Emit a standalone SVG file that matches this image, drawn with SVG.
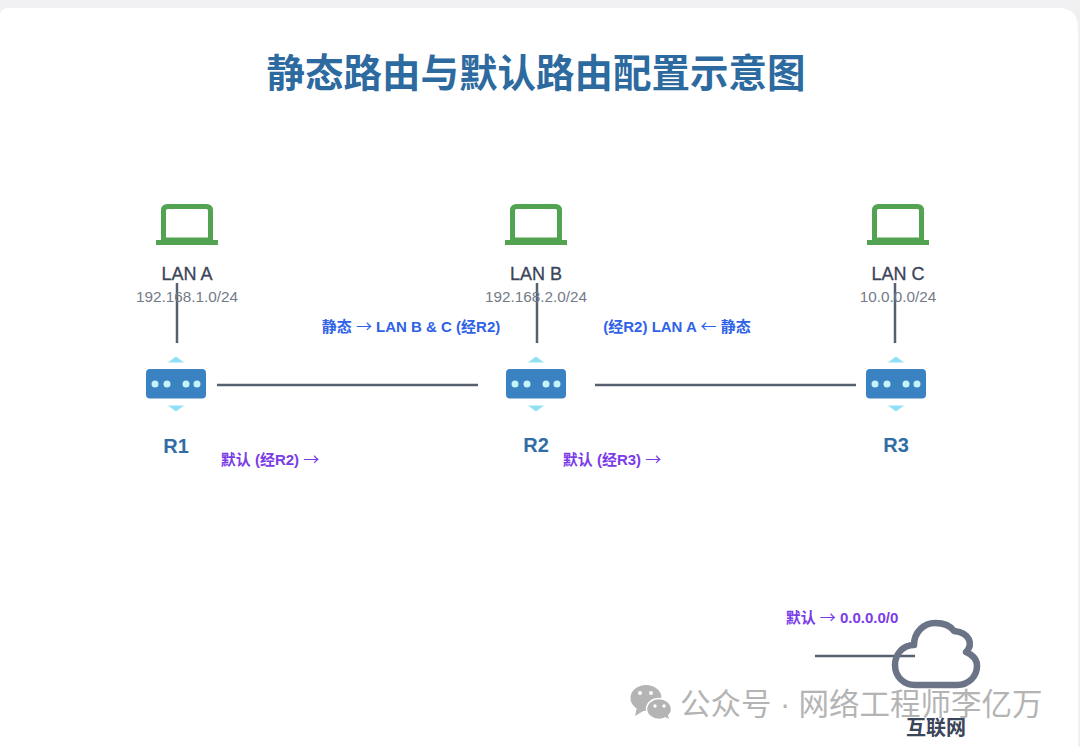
<svg xmlns="http://www.w3.org/2000/svg" width="1080" height="747" viewBox="0 0 1080 747">
<style>
text{font-family:"Liberation Sans","Noto Sans CJK SC",sans-serif;text-anchor:middle}
.t{font-size:38.500px;font-weight:700;fill:#2c6aa0}
.lan{font-size:18px;fill:#3b4559;stroke:#3b4559;stroke-width:.3}
.ip{font-size:15.300px;fill:#737b88}
.r{font-size:20px;font-weight:700;fill:#2f6da4}
.s{font-size:15px;font-weight:700;fill:#2f62e6}
.d{font-size:15px;font-weight:700;fill:#7a3be8}
.a{font-family:"Noto Sans CJK SC",sans-serif;font-weight:400;font-size:16px}
.l{stroke:#56606f;stroke-width:2.500;fill:none}
.wm{font-size:30.500px;fill:#b4b4b4;text-anchor:start}
</style>
<defs>
<g id="laptop"><path d="M-23.500 -29.500Q-23.500 -33.500 -19.500 -33.500H19.500Q23.500 -33.500 23.500 -29.500V0H-23.500Z" fill="none" stroke="#52a352" stroke-width="5" stroke-linejoin="round"/><rect x="-31" y="0" width="62" height="5" fill="#52a352"/></g>
<g id="router"><path d="M-8 -21.500L0 -27.500L8 -21.500Z" fill="#90e0f5"/><path d="M-8 21.500L0 27.500L8 21.500Z" fill="#90e0f5"/><rect x="-30" y="-15" width="60" height="29.500" rx="4" fill="#3a82c2"/><g fill="#c4f3f8"><circle cx="-21" cy="0" r="3.500"/><circle cx="-9" cy="0" r="3.500"/><circle cx="10" cy="0" r="3.500"/><circle cx="21" cy="0" r="3.500"/></g></g>
</defs>
<rect width="1080" height="747" fill="#f0f0f2"/>
<path d="M0 16Q0 8 8 8H1058Q1078 8 1078 28V747H0Z" fill="#fff"/>
<text id="title" class="t" x="536" y="87">静态路由与默认路由配置示意图</text>
<g id="connectors">
<line class="l" x1="177" y1="283" x2="177" y2="343"/>
<line class="l" x1="537" y1="283" x2="537" y2="343"/>
<line class="l" x1="895" y1="283" x2="895" y2="343"/>
<line class="l" x1="217" y1="385" x2="478" y2="385"/>
<line class="l" x1="595" y1="385" x2="856" y2="385"/>
<line class="l" x1="815" y1="656" x2="915" y2="656"/>
</g>
<g id="lan-a"><use href="#laptop" x="187" y="240"/><text class="lan" x="187" y="280">LAN A</text><text class="ip" x="187" y="302">192.168.1.0/24</text></g>
<g id="lan-b"><use href="#laptop" x="536" y="240"/><text class="lan" x="536" y="280">LAN B</text><text class="ip" x="536" y="302">192.168.2.0/24</text></g>
<g id="lan-c"><use href="#laptop" x="898" y="240"/><text class="lan" x="898" y="280">LAN C</text><text class="ip" x="898" y="302">10.0.0.0/24</text></g>
<g id="r1"><use href="#router" x="176" y="384"/><text class="r" x="176" y="453">R1</text></g>
<g id="r2"><use href="#router" x="536" y="384"/><text class="r" x="536" y="452">R2</text></g>
<g id="r3"><use href="#router" x="896" y="384"/><text class="r" x="896" y="452">R3</text></g>
<text class="s" x="411" y="332">静态 <tspan class="a">→</tspan> LAN B &amp; C (经R2)</text>
<text class="s" x="677" y="332">(经R2) LAN A <tspan class="a">←</tspan> 静态</text>
<text class="d" x="270" y="465">默认 (经R2) <tspan class="a">→</tspan></text>
<text class="d" x="612" y="465">默认 (经R3) <tspan class="a">→</tspan></text>
<text class="d" x="842" y="623">默认 <tspan class="a">→</tspan> 0.0.0.0/0</text>
<g id="internet">
<path d="M915 685H957C969 685 977 676 977 666C977 660 973 655 966 652C973 645 971 633 954 631C950 625 942 623 935 623C924 623 914 632 914 645C903 645 895 654 895 665C895 677 904 685 915 685Z" fill="none" stroke="#6b7486" stroke-width="6.500" stroke-linejoin="round"/>
<text x="936" y="735" font-size="20" font-weight="700" fill="#3b4559">互联网</text>
</g>
<g id="watermark">
<g fill="#b4b4b4"><ellipse cx="646" cy="698" rx="15.500" ry="13"/><path d="M637 707L635 716L645 710Z"/><ellipse cx="659" cy="709" rx="12.500" ry="10.500" stroke="#fff" stroke-width="1.500"/><path d="M665 717L669 719L667 712Z"/></g>
<g fill="#fff"><circle cx="640" cy="693" r="2"/><circle cx="651" cy="693" r="2"/><circle cx="655" cy="706" r="1.700"/><circle cx="664" cy="706" r="1.700"/></g>
<text class="wm" x="680" y="715">公众号 · 网络工程师李亿万</text>
</g>
</svg>
